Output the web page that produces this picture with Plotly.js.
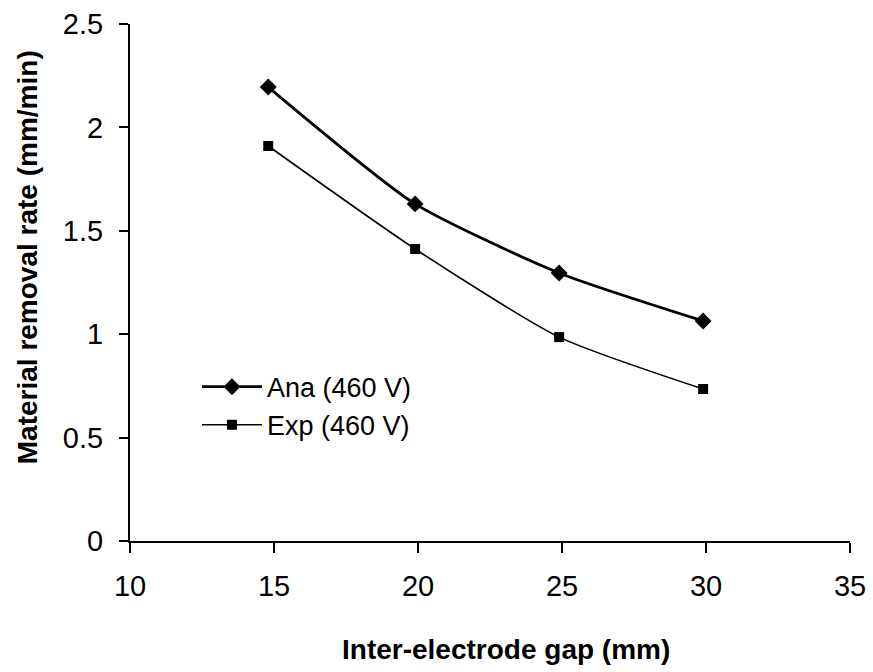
<!DOCTYPE html>
<html>
<head>
<meta charset="utf-8">
<script src="https://cdn.plot.ly/plotly-3.0.1.min.js"></script>
<style>html,body{margin:0;padding:0;background:#fff;}#chart{width:873px;height:672px;}</style>
</head>
<body>
<div id="chart"></div>
<script>
const gap = [14.8, 19.9, 24.9, 29.9];
const anaRate = [2.195, 1.63, 1.296, 1.064];
const expRate = [1.91, 1.412, 0.986, 0.735];
const anaName = "Ana (460 V)";
const expName = "Exp (460 V)";
const xTicks = [10, 15, 20, 25, 30, 35];
const yTicks = [0, 0.5, 1, 1.5, 2, 2.5];
const xTitle = "Inter-electrode gap (mm)";
const yTitle = "Material removal rate (mm/min)";

const font = "Liberation Sans, Arial, sans-serif";
const traces = [
  {x: gap, y: anaRate, name: anaName, type: "scatter", mode: "lines+markers",
   line: {color: "#000", width: 2.8, shape: "spline", smoothing: 0.6},
   marker: {symbol: "diamond", size: 13, color: "#000"}},
  {x: gap, y: expRate, name: expName, type: "scatter", mode: "lines+markers",
   line: {color: "#000", width: 1.6, shape: "spline", smoothing: 0.6},
   marker: {symbol: "square", size: 10, color: "#000"}}
];
const layout = {
  width: 873, height: 672,
  margin: {l: 130, r: 23, t: 24, b: 131},
  paper_bgcolor: "#fff", plot_bgcolor: "#fff",
  showlegend: true,
  legend: {x: 0.093, y: 0.345, xanchor: "left", yanchor: "top",
    font: {family: font, size: 27, color: "#000"}, bgcolor: "rgba(0,0,0,0)",
    tracegroupgap: 0, itemwidth: 60},
  xaxis: {range: [10, 35], tickvals: xTicks, ticktext: xTicks.map(String),
    showline: true, linecolor: "#000", linewidth: 2, ticks: "outside", ticklen: 10,
    tickwidth: 2, tickcolor: "#000", showgrid: false, zeroline: false,
    ticklabelstandoff: 8,
    tickfont: {family: font, size: 29, color: "#000"}},
  yaxis: {range: [0, 2.5], tickvals: yTicks, ticktext: yTicks.map(String),
    showline: true, linecolor: "#000", linewidth: 2, ticks: "outside", ticklen: 9,
    tickwidth: 2, tickcolor: "#000", showgrid: false, zeroline: false,
    ticklabelstandoff: 10,
    tickfont: {family: font, size: 29, color: "#000"}},
  annotations: [
    {text: xTitle, xref: "paper", yref: "paper", x: 0.522, y: -0.209,
     xanchor: "center", yanchor: "middle", showarrow: false,
     font: {family: font, size: 28, color: "#000", weight: "bold"}},
    {text: yTitle, xref: "paper", yref: "paper", x: -0.143, y: 0.549,
     xanchor: "center", yanchor: "middle", showarrow: false, textangle: -90,
     font: {family: font, size: 28, color: "#000", weight: "bold"}}
  ]
};
Plotly.newPlot("chart", traces, layout, {displayModeBar: false, staticPlot: true});
</script>
</body>
</html>
